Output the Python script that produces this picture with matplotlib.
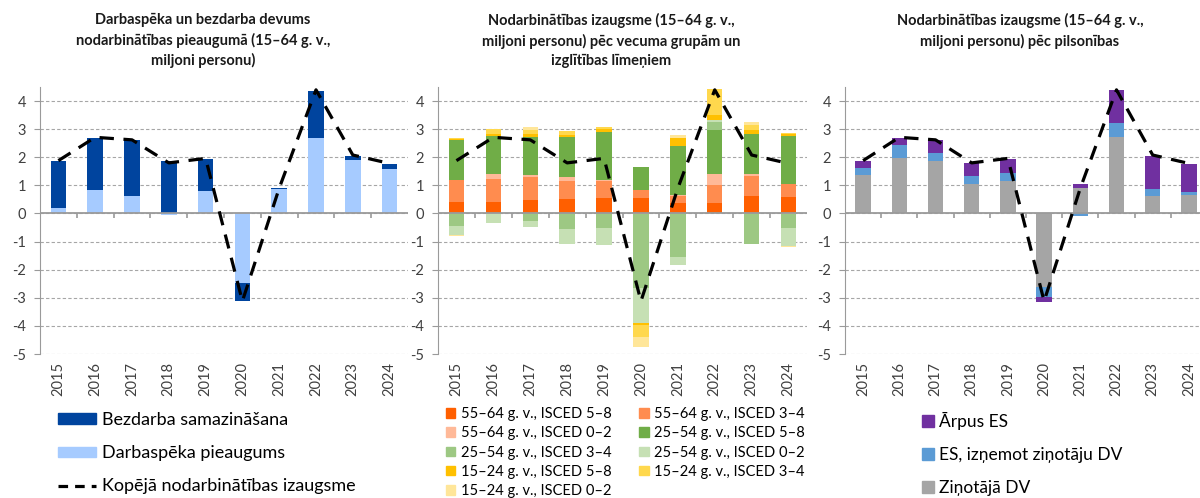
import numpy as np
import matplotlib
matplotlib.use("Agg")
import matplotlib.pyplot as plt
from matplotlib.patches import Patch
from matplotlib.lines import Line2D

plt.rcParams['font.family'] = ['Lato', 'DejaVu Sans']
plt.rcParams['axes.unicode_minus'] = False

# --- dati ---
gadi = ["2015", "2016", "2017", "2018", "2019", "2020", "2021", "2022", "2023", "2024"]

# kopējā nodarbinātības izaugsme (līnija visos paneļos)
kopeja = [1.88, 2.71, 2.62, 1.80, 1.96, -3.12, 0.90, 4.40, 2.08, 1.78]

# 1. panelis
darbaspeka = [0.20, 0.85, 0.61, -0.06, 0.81, -2.46, 0.88, 2.68, 1.91, 1.58]
bezdarbs = [1.67, 1.84, 2.00, 1.86, 1.14, -0.65, 0.02, 1.68, 0.13, 0.18]

# 2. panelis (vecuma grupas un ISCED līmeņi)
v55_58 = [0.41, 0.41, 0.47, 0.52, 0.56, 0.56, 0.39, 0.38, 0.61, 0.58]
v55_34 = [0.77, 0.82, 0.82, 0.65, 0.59, 0.26, 0.23, 0.64, 0.72, 0.47]
v55_02 = [0.01, 0.18, 0.09, 0.11, 0.05, -0.03, 0.05, 0.40, 0.09, -0.02]
v25_58 = [1.43, 1.33, 1.34, 1.44, 1.69, 0.84, 1.72, 1.54, 1.41, 1.70]
v25_34 = [-0.43, 0.00, -0.27, -0.55, -0.51, -2.63, -1.56, 0.28, -1.07, -0.49]
v25_02 = [-0.35, -0.33, -0.22, -0.53, -0.62, -1.22, -0.26, 0.10, 0.00, -0.64]
v15_58 = [0.03, 0.10, 0.10, 0.08, 0.12, -0.08, 0.30, 0.15, 0.15, 0.08]
v15_34 = [0.03, 0.15, 0.15, 0.12, 0.05, -0.45, 0.00, 0.94, 0.16, 0.03]
v15_02 = [-0.03, -0.02, 0.10, 0.00, 0.00, -0.35, 0.09, 0.00, 0.11, -0.03]

# 3. panelis (pilsonība)
zinotaja_dv = [1.38, 1.98, 1.88, 1.05, 1.17, -2.61, 0.90, 2.71, 0.63, 0.67]
es_bez_dv = [0.23, 0.47, 0.27, 0.30, 0.27, -0.37, -0.08, 0.50, 0.24, 0.10]
arpus_es = [0.27, 0.24, 0.47, 0.44, 0.51, -0.16, 0.15, 1.19, 1.17, 0.99]

nosaukumi_vecums = [
    "55–64 g. v., ISCED 5–8", "55–64 g. v., ISCED 3–4", "55–64 g. v., ISCED 0–2",
    "25–54 g. v., ISCED 5–8", "25–54 g. v., ISCED 3–4", "25–54 g. v., ISCED 0–2",
    "15–24 g. v., ISCED 5–8", "15–24 g. v., ISCED 3–4", "15–24 g. v., ISCED 0–2",
]
krasas_vecums = ["#FF5F00", "#FF8C4F", "#FFB998", "#70AD47", "#9DC883",
                 "#C6E0B4", "#FFC000", "#FFD84D", "#FFE699"]

PELEKS = "#9a9a9a"
x = np.arange(len(gadi))
W = 0.42


def stabini(ax, serijas, krasas):
    """Sakrauti stabiņi: pozitīvās vērtības uz augšu, negatīvās uz leju."""
    aug = np.zeros(len(x))
    lej = np.zeros(len(x))
    for vert, kr in zip(serijas, krasas):
        vert = np.array(vert, dtype=float)
        apaksa = np.where(vert >= 0, aug, lej)
        ax.bar(x, vert, W, bottom=apaksa, color=kr, linewidth=0, zorder=2)
        aug += np.clip(vert, 0, None)
        lej += np.clip(vert, None, 0)


def noformet(ax):
    ax.set_xlim(-0.5, 9.5)
    ax.set_ylim(-5, 4.5)
    ax.set_yticks(range(-5, 5))
    ax.yaxis.grid(True, linestyle=(0, (3, 2)), color="#a6a6a6", linewidth=0.8)
    ax.set_axisbelow(True)
    for s in ["top", "right", "bottom"]:
        ax.spines[s].set_visible(False)
    ax.spines["left"].set_color(PELEKS)
    ax.tick_params(axis="y", length=4, color=PELEKS, labelsize=10.5,
                   labelcolor="#404040", pad=6)
    ax.set_xticks(x)
    ax.set_xticklabels(gadi, rotation=90)
    ax.tick_params(axis="x", length=0, labelsize=10.5, labelcolor="#404040", pad=6)
    ax.axhline(0, color=PELEKS, linewidth=1.3, zorder=3)
    ax.vlines(x[:-1] + 0.5, -0.15, 0, color=PELEKS, linewidth=1.2, zorder=3)


def linija(ax):
    ax.plot(x, kopeja, color="black", linewidth=2.3, linestyle=(0, (4.5, 3)), zorder=4)


fig = plt.figure(figsize=(12, 4.98), dpi=100)
H = 498.0
ax1 = fig.add_axes([40 / 1200, 1 - 354 / H, 368 / 1200, 267 / H])
ax2 = fig.add_axes([438 / 1200, 1 - 354 / H, 369 / 1200, 267 / H])
ax3 = fig.add_axes([845 / 1200, 1 - 354 / H, 362 / 1200, 267 / H])

# 1. panelis
stabini(ax1, [darbaspeka, bezdarbs], ["#A6CBFF", "#00449E"])
linija(ax1)
noformet(ax1)

# 2. panelis
stabini(ax2, [v55_58, v55_34, v55_02, v25_58, v25_34, v25_02, v15_58, v15_34, v15_02],
        krasas_vecums)
linija(ax2)
noformet(ax2)

# 3. panelis
stabini(ax3, [zinotaja_dv, es_bez_dv, arpus_es], ["#A5A5A5", "#5B9BD5", "#7030A0"])
linija(ax3)
noformet(ax3)

# virsraksti
virsraksti = [
    (203, "Darbaspēka un bezdarba devums\nnodarbinātības pieaugumā (15–64 g. v.,\nmiljoni personu)"),
    (611, "Nodarbinātības izaugsme (15–64 g. v.,\nmiljoni personu) pēc vecuma grupām un\nizglītības līmeņiem"),
    (1020, "Nodarbinātības izaugsme (15–64 g. v.,\nmiljoni personu) pēc pilsonības"),
]
for px, txt in virsraksti:
    fig.text(px / 1200, 1 - 13 / H, txt, ha="center", va="top", fontsize=10.5,
             fontweight="bold", linespacing=1.45, color="#1a1a1a")

# leģendas
rokturi1 = [Patch(color="#00449E"), Patch(color="#A6CBFF"),
            Line2D([], [], color="black", linewidth=2.3, linestyle=(0, (3, 2.2)))]
fig.legend(rokturi1, ["Bezdarba samazināšana", "Darbaspēka pieaugums",
                      "Kopējā nodarbinātības izaugsme"],
           loc="upper left", bbox_to_anchor=(58 / 1200, 1 - 412 / H), frameon=False,
           fontsize=13, handlelength=2.1, handleheight=0.5, handletextpad=0.35,
           labelspacing=0.95, borderpad=0, borderaxespad=0)

# 2. leģenda aizpildīta pa rindām
seciba = [0, 2, 4, 6, 8, 1, 3, 5, 7]
rokturi2 = [Patch(color=krasas_vecums[i]) for i in seciba]
fig.legend(rokturi2, [nosaukumi_vecums[i] for i in seciba], ncol=2,
           loc="upper left", bbox_to_anchor=(446 / 1200, 1 - 407 / H), frameon=False,
           fontsize=10.5, handlelength=0.65, handleheight=0.65, handletextpad=0.35,
           labelspacing=0.36, columnspacing=1.9, borderpad=0, borderaxespad=0)

rokturi3 = [Patch(color="#7030A0"), Patch(color="#5B9BD5"), Patch(color="#A5A5A5")]
fig.legend(rokturi3, ["Ārpus ES", "ES, izņemot ziņotāju DV", "Ziņotājā DV"],
           loc="upper left", bbox_to_anchor=(922 / 1200, 1 - 412 / H), frameon=False,
           fontsize=12.5, handlelength=0.7, handleheight=0.7, handletextpad=0.3,
           labelspacing=0.98, borderpad=0, borderaxespad=0)

fig.savefig("out.png", dpi=100)
